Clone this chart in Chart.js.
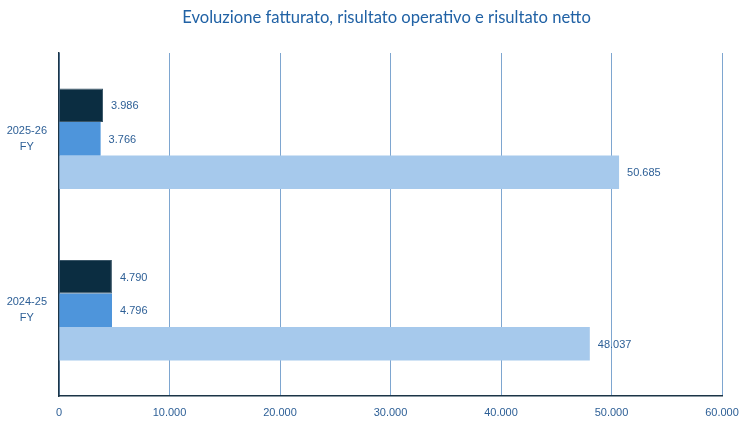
<!DOCTYPE html>
<html>
<head>
<meta charset="utf-8">
<script src="https://cdn.jsdelivr.net/npm/chart.js@4"></script>
<style>
  html, body { margin: 0; padding: 0; background: #fff; }
  #wrap { width: 753px; height: 423px; position: relative; }
</style>
</head>
<body>
<div id="wrap"><canvas id="chart"></canvas></div>
<script>
// Data
const categories = [['2025-26', 'FY'], ['2024-25', 'FY']];
const seriesNames = ['Risultato netto', 'Risultato operativo', 'Fatturato'];
const risultatoNetto = [3986, 4790];
const risultatoOperativo = [3766, 4796];
const fatturato = [50685, 48037];
const xTicks = [0, 10000, 20000, 30000, 40000, 50000, 60000];

const titleText = 'Evoluzione fatturato, risultato operativo e risultato netto';
const labelColor = '#2d5f96';

function fmt(v) {
    return String(Math.round(v)).replace(/\B(?=(\d{3})+(?!\d))/g, '.');
}

// draws values at the end of each bar
const barLabels = {
    id: 'barLabels',
    afterDatasetsDraw(chart) {
        const ctx = chart.ctx;
        ctx.save();
        ctx.font = '11px "Liberation Sans", Arial, sans-serif';
        ctx.fillStyle = labelColor;
        ctx.textAlign = 'left';
        ctx.textBaseline = 'middle';
        chart.data.datasets.forEach(function(ds, i) {
            chart.getDatasetMeta(i).data.forEach(function(bar, j) {
                ctx.fillText(fmt(ds.data[j]), bar.x + 8, bar.y + 1);
            });
        });
        ctx.restore();
    }
};

// title centred over the plot area
const plotTitle = {
    id: 'plotTitle',
    afterDraw(chart) {
        const ctx = chart.ctx;
        const area = chart.chartArea;
        ctx.save();
        ctx.font = '16.6px Lato, "Noto Sans", sans-serif';
        ctx.fillStyle = '#2162a5';
        ctx.textAlign = 'center';
        ctx.textBaseline = 'middle';
        ctx.fillText(titleText, (area.left + area.right) / 2 - 4, 18);
        ctx.restore();
    }
};

new Chart(document.getElementById('chart'), {
    type: 'bar',
    data: {
        labels: categories,
        datasets: [
            {
                label: seriesNames[0],
                data: risultatoNetto,
                backgroundColor: '#0b2d41',
                borderColor: '#3a5668',
                borderWidth: 1
            },
            {
                label: seriesNames[1],
                data: risultatoOperativo,
                backgroundColor: '#4e95db'
            },
            {
                label: seriesNames[2],
                data: fatturato,
                backgroundColor: '#a6c9ec'
            }
        ]
    },
    options: {
        indexAxis: 'y',
        responsive: true,
        maintainAspectRatio: false,
        animation: false,
        layout: { padding: { top: 53, right: 31, left: 0, bottom: 0 } },
        plugins: {
            legend: { display: false },
            title: { display: false },
            tooltip: { enabled: false }
        },
        datasets: {
            bar: { categoryPercentage: 0.585, barPercentage: 1.0 }
        },
        scales: {
            x: {
                min: 0,
                max: 60000,
                afterBuildTicks(axis) {
                    axis.ticks = xTicks.map(function(v) { return { value: v }; });
                },
                afterFit(axis) { axis.height = 27; },
                grid: {
                    color: '#7ea6d0',
                    lineWidth: 1,
                    drawTicks: false
                },
                border: { display: true, color: '#1b3447', width: 1.5 },
                ticks: {
                    padding: 10,
                    color: labelColor,
                    font: { family: '"Liberation Sans", Arial, sans-serif', size: 11 },
                    callback: function(v) { return fmt(v); }
                }
            },
            y: {
                afterFit(axis) { axis.width = 59; },
                grid: { display: false },
                border: { display: true, color: '#1b3447', width: 1.5 },
                ticks: {
                    color: labelColor,
                    crossAlign: 'center',
                    padding: 4,
                    font: { family: '"Liberation Sans", Arial, sans-serif', size: 11, lineHeight: 1.45 }
                }
            }
        }
    },
    plugins: [barLabels, plotTitle]
});
</script>
</body>
</html>
